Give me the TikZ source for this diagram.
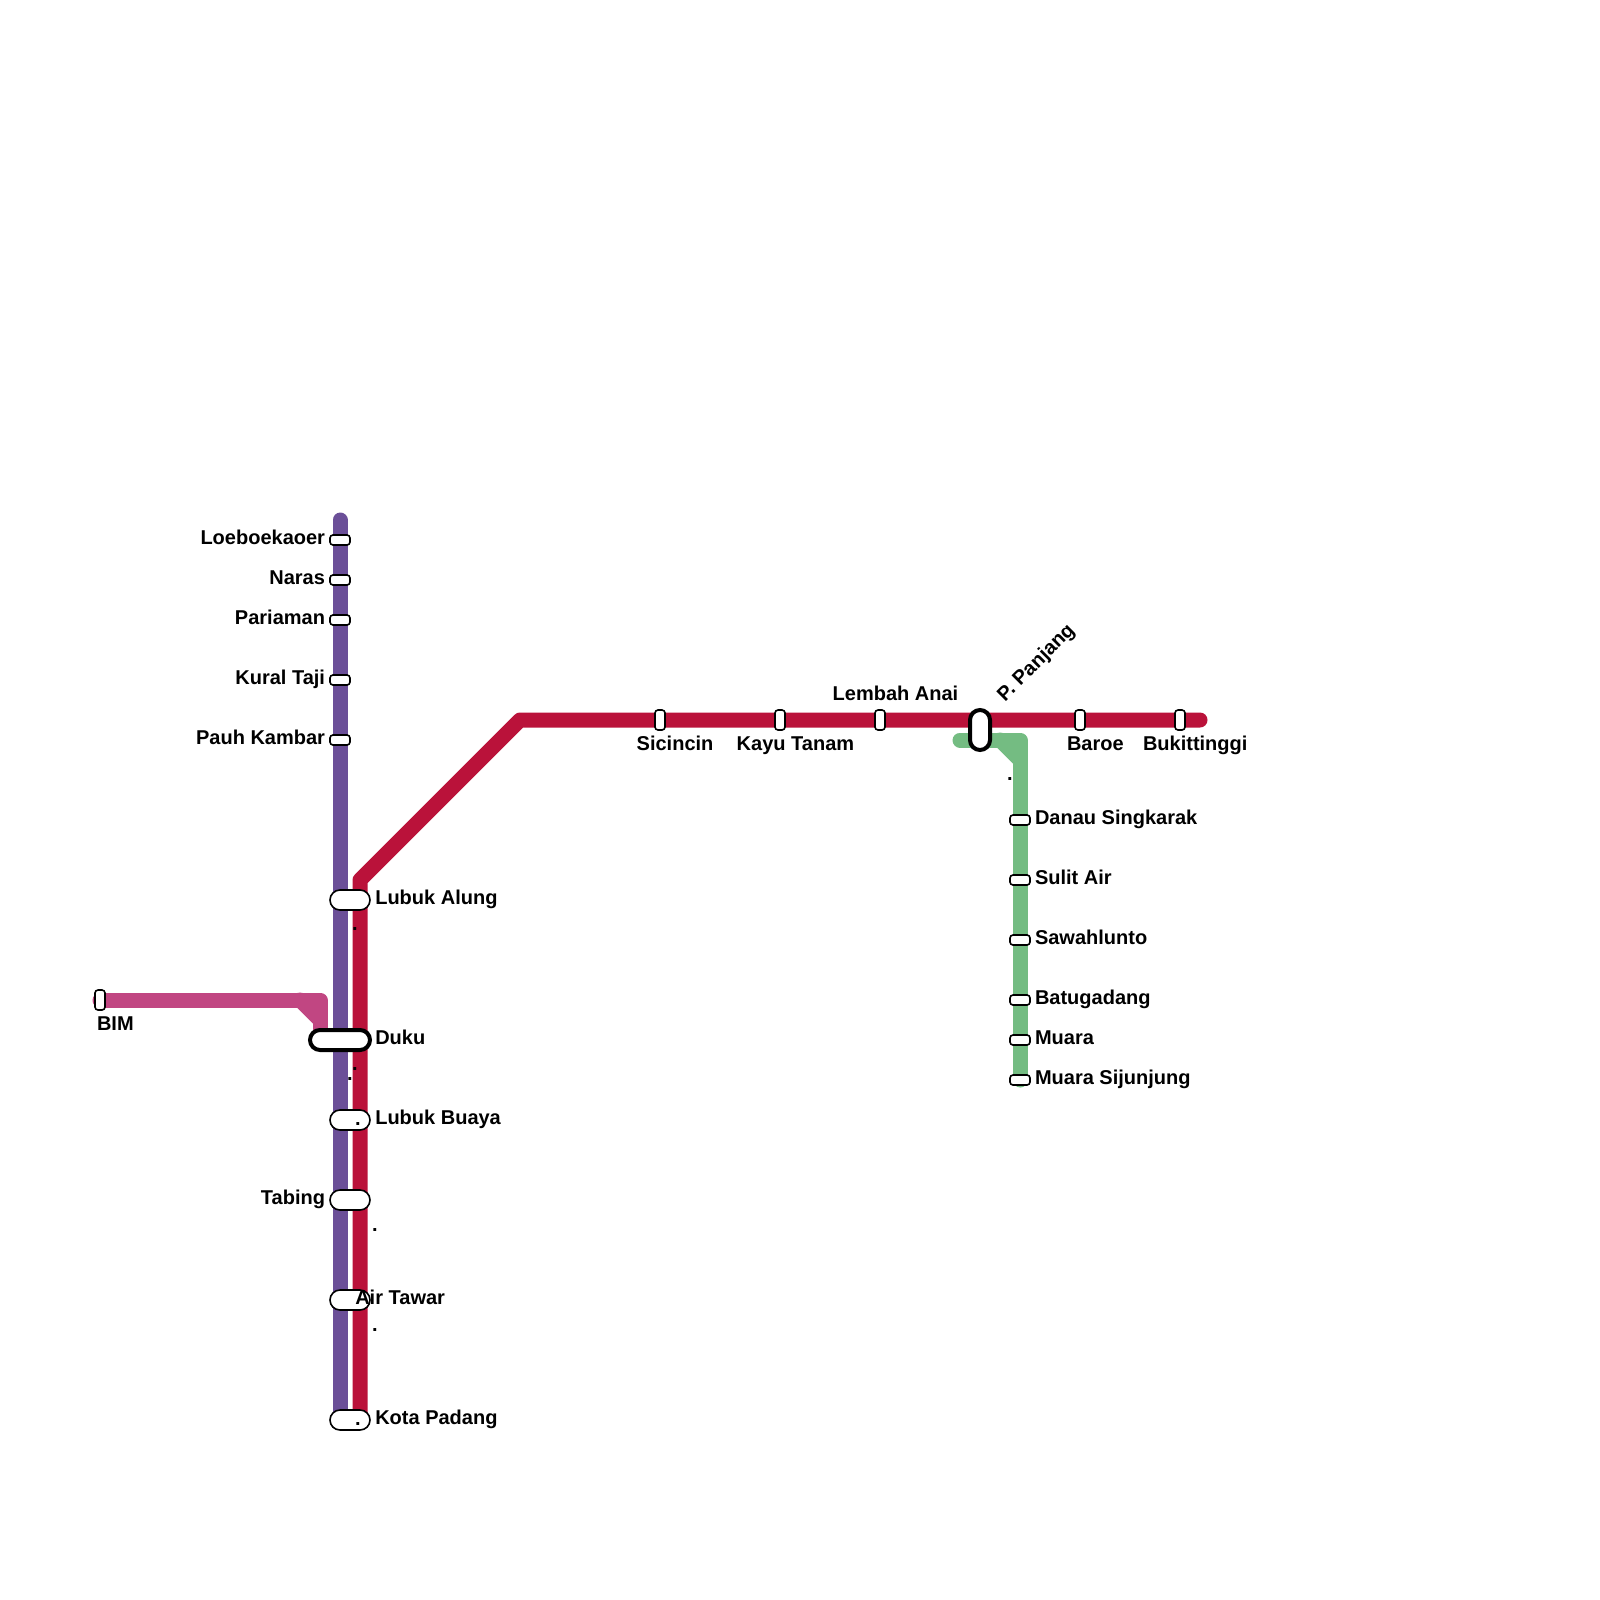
\documentclass[tikz,border=0pt]{standalone}
\usepackage{fontspec}
\setmainfont{Liberation Sans}
\usetikzlibrary{calc}

\definecolor{linePurple}{RGB}{107,79,152}
\definecolor{lineRed}{RGB}{186,18,58}
\definecolor{lineGreen}{RGB}{116,188,130}
\definecolor{linePink}{RGB}{193,70,130}

\tikzset{
  railline/.style={line width=15pt, line cap=round, line join=round},
  stationbox/.style={draw=black, fill=white, line width=1.6pt, rectangle, inner sep=0pt, outer sep=0pt},
  stationflat/.style={stationbox, minimum width=20pt, minimum height=10pt, rounded corners=3pt},
  stationtall/.style={stationbox, minimum width=10pt, minimum height=20pt, rounded corners=3pt},
  stationwide/.style={stationbox, minimum width=40pt, minimum height=20pt, rounded corners=10pt},
  stationhub/.style={stationbox, line width=4pt, rounded corners=10pt},
  stationtext/.style={font=\bfseries\fontsize{20}{22}\selectfont, inner sep=0pt, outer sep=0pt, text=black},
}

\begin{document}
\begin{tikzpicture}[x=1pt,y=-1pt]

\useasboundingbox (0,0) rectangle (1600,1600);

% ---------- Linienpunkte ----------
\coordinate (purpleTop) at (340,520);
\coordinate (purpleEnd) at (340,1420);

\coordinate (redEnd)   at (360,1420);
\coordinate (redBend)  at (360,880);
\coordinate (redTurn)  at (520,720);
\coordinate (redEast)  at (1200,720);

\coordinate (greenWest)  at (960,740);
\coordinate (greenInner) at (1000,740);
\coordinate (greenEdge)  at (1020,740);
\coordinate (greenBend)  at (1020,760);
\coordinate (greenEnd)   at (1020,1080);

\coordinate (pinkWest)  at (100,1000);
\coordinate (pinkInner) at (300,1000);
\coordinate (pinkEdge)  at (320,1000);
\coordinate (pinkBend)  at (320,1020);
\coordinate (pinkEnd)   at (320,1040);

% ---------- Linien ----------
\draw[railline, linePurple] (purpleTop) -- (purpleEnd);
\draw[railline, lineRed] (redEnd) -- (redBend) -- (redTurn) -- (redEast);
\draw[railline, lineGreen] (greenWest) -- (greenEdge) -- (greenEnd);
\draw[railline, lineGreen] (greenInner) -- (greenBend);
\draw[railline, linePink] (pinkWest) -- (pinkEdge) -- (pinkEnd);
\draw[railline, linePink] (pinkInner) -- (pinkBend);

% ---------- Stationen ----------
\foreach \name/\xpos/\ypos in {stLoeboekaoer/340/540, stNaras/340/580, stPariaman/340/620,
    stKuralTaji/340/680, stPauhKambar/340/740, stDanau/1020/820, stSulitAir/1020/880,
    stSawahlunto/1020/940, stBatugadang/1020/1000, stMuara/1020/1040, stSijunjung/1020/1080}
  \node[stationflat] (\name) at (\xpos,\ypos) {};

\foreach \name/\xpos in {stSicincin/660, stKayuTanam/780, stLembahAnai/880, stBaroe/1080, stBukittinggi/1180}
  \node[stationtall] (\name) at (\xpos,720) {};
\node[stationtall] (stBIM) at (100,1000) {};

\foreach \name/\ypos in {stLubukAlung/900, stLubukBuaya/1120, stTabing/1200, stAirTawar/1300, stKotaPadang/1420}
  \node[stationwide] (\name) at (350,\ypos) {};

\node[stationhub, minimum width=60pt, minimum height=20pt] (stDuku) at (340,1040) {};
\node[stationhub, minimum width=20pt, minimum height=40pt] (stPanjang) at (980,730) {};

% ---------- Beschriftung links ----------
\foreach \name/\ypos/\txt in {lbLoeboekaoer/544.6/Loeboekaoer, lbNaras/584.6/Naras, lbPariaman/624.6/Pariaman,
    lbKuralTaji/684.6/Kural Taji, lbPauhKambar/744.6/Pauh Kambar, lbTabing/1204.6/Tabing}
  \node[stationtext, anchor=base east] (\name) at (325,\ypos) {\txt};

% ---------- Beschriftung rechts ----------
\foreach \name/\xpos/\ypos/\txt in {lbLubukAlung/375.3/904.8/Lubuk Alung, lbDuku/375.3/1044.6/Duku,
    lbLubukBuaya/375.3/1124.6/Lubuk Buaya, lbAirTawar/355.3/1304.6/Air Tawar, lbKotaPadang/375.3/1424.6/Kota Padang,
    lbDanau/1035/824.6/Danau Singkarak, lbSulitAir/1035/884.6/Sulit Air, lbSawahlunto/1035/944.6/Sawahlunto,
    lbBatugadang/1035/1004.6/Batugadang, lbMuara/1035/1044.6/Muara, lbSijunjung/1035/1084.6/Muara Sijunjung,
    lbBIM/97/1030/BIM, lbSicincin/636.7/750/Sicincin, lbKayuTanam/736.7/750/Kayu Tanam,
    lbLembahAnai/832.7/700/Lembah Anai, lbBaroe/1067/750/Baroe, lbBukittinggi/1143/750/Bukittinggi}
  \node[stationtext, anchor=base west] (\name) at (\xpos,\ypos) {\txt};

\node[stationtext, anchor=base west, rotate=45] (lbPanjang) at (1005,702) {P. Panjang};

% ---------- Punkte ----------
\foreach \name/\xpos/\ypos in {ptA/355/929, ptB/355/1069, ptC/350/1079, ptD/358/1124,
    ptE/375/1229.5, ptF/375/1329.5, ptG/358/1424, ptH/1010/779}
  \node[stationtext] (\name) at (\xpos,\ypos) {.};

\end{tikzpicture}
\end{document}
